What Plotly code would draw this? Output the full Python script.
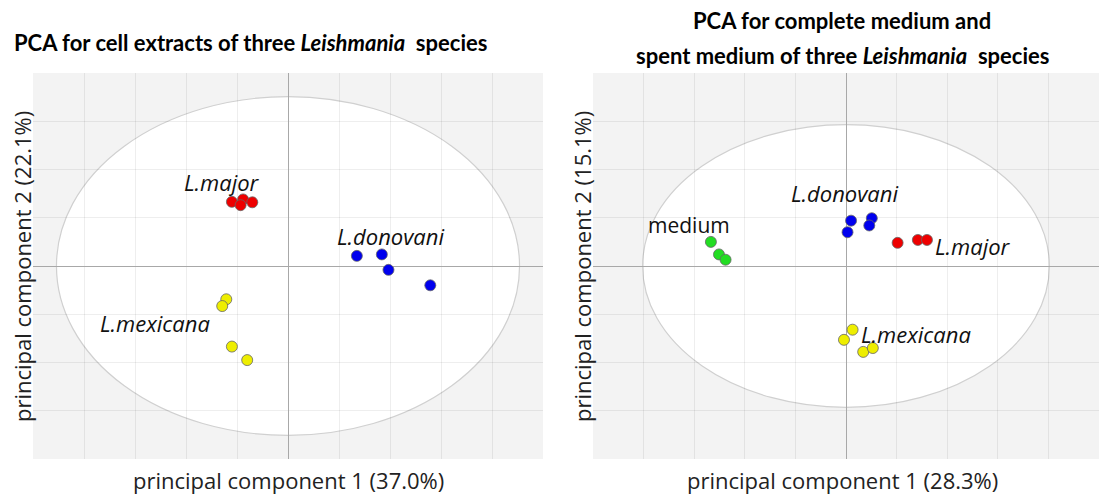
import plotly.graph_objects as go

# ---------------- data: left panel (cell extracts) ----------------
L_major_x = [-1.10, -0.88, -0.93, -0.70]
L_major_y = [1.33, 1.38, 1.26, 1.32]
L_donovani_x = [1.35, 1.84, 1.97, 2.79]
L_donovani_y = [0.21, 0.24, -0.08, -0.40]
L_mexicana_x = [-1.21, -1.29, -1.10, -0.80]
L_mexicana_y = [-0.69, -0.83, -1.67, -1.95]
left_ellipse_rx, left_ellipse_ry = 4.54, 3.51

# ---------------- data: right panel (media) ----------------
R_medium_x = [-2.67, -2.51, -2.38]
R_medium_y = [0.50, 0.24, 0.13]
R_donovani_x = [0.10, 0.51, 0.46, 0.03]
R_donovani_y = [0.94, 0.99, 0.84, 0.70]
R_major_x = [1.02, 1.42, 1.60]
R_major_y = [0.48, 0.54, 0.54]
R_mexicana_x = [0.13, -0.04, 0.34, 0.53]
R_mexicana_y = [-1.32, -1.53, -1.78, -1.70]
right_ellipse_rx, right_ellipse_ry = 4.02, 2.93

RED, BLUE, YELLOW, GREEN = "#ee0000", "#0000ee", "#eeee00", "#22dd22"
W, H = 1105, 499

fig = go.Figure()

def add_pts(x, y, color, xa, ya):
    fig.add_trace(go.Scatter(
        x=x, y=y, mode="markers", xaxis=xa, yaxis=ya, showlegend=False,
        marker=dict(size=11, color=color, line=dict(color="#666666", width=0.8))))

add_pts(L_major_x, L_major_y, RED, "x", "y")
add_pts(L_donovani_x, L_donovani_y, BLUE, "x", "y")
add_pts(L_mexicana_x, L_mexicana_y, YELLOW, "x", "y")
add_pts(R_medium_x, R_medium_y, GREEN, "x2", "y2")
add_pts(R_donovani_x, R_donovani_y, BLUE, "x2", "y2")
add_pts(R_major_x, R_major_y, RED, "x2", "y2")
add_pts(R_mexicana_x, R_mexicana_y, YELLOW, "x2", "y2")

axis_common = dict(range=[-5, 5], dtick=1, tick0=0, showticklabels=False, ticks="",
                   showgrid=True, gridcolor="rgba(0,0,0,0.065)", gridwidth=1,
                   zeroline=True, zerolinecolor="#a8a8a8", zerolinewidth=1,
                   showline=False, fixedrange=True)
yaxis_common = dict(axis_common, range=[-4, 4])

px = lambda p: p / W
py = lambda p: (H - p) / H

fig.update_layout(
    width=W, height=H, margin=dict(l=0, r=0, t=0, b=0),
    paper_bgcolor="white", plot_bgcolor="#f3f3f3",
    xaxis=dict(axis_common, domain=[px(33), px(543)], anchor="y"),
    yaxis=dict(yaxis_common, domain=[py(459), py(73)], anchor="x"),
    xaxis2=dict(axis_common, domain=[px(593), px(1099)], anchor="y2"),
    yaxis2=dict(yaxis_common, domain=[py(459), py(73)], anchor="x2"),
    font=dict(family="Open Sans", color="#222222"),
)

# confidence ellipses
for xr, yr, rx, ry in [("x", "y", left_ellipse_rx, left_ellipse_ry),
                       ("x2", "y2", right_ellipse_rx, right_ellipse_ry)]:
    fig.add_shape(type="circle", xref=xr, yref=yr, x0=-rx, x1=rx, y0=-ry, y1=ry,
                  fillcolor="white", line=dict(color="#d0d0d0", width=1.2), layer="below")

lab_it = dict(family="Open Sans", size=22, color="#111111")
lab_up = dict(family="Open Sans", size=21, color="#111111")
labels = [
    ("x", "y", -1.30, 1.75, "<i>L.major</i>", lab_it),
    ("x", "y", 2.00, 0.62, "<i>L.donovani</i>", lab_it),
    ("x", "y", -2.60, -1.19, "<i>L.mexicana</i>", lab_it),
    ("x2", "y2", -3.10, 0.86, "medium", lab_up),
    ("x2", "y2", -0.02, 1.52, "<i>L.donovani</i>", lab_it),
    ("x2", "y2", 2.51, 0.41, "<i>L.major</i>", lab_it),
    ("x2", "y2", 1.38, -1.40, "<i>L.mexicana</i>", lab_it),
]
for xr, yr, x, y, t, f in labels:
    fig.add_annotation(xref=xr, yref=yr, x=x, y=y, text=t, showarrow=False, font=f)

tfont = dict(family="Lato", size=22, color="#000000")
fig.add_annotation(xref="paper", yref="paper", x=px(250), y=py(43), text="<b>PCA for cell extracts of three <i>Leishmania</i>  species</b>",
                   showarrow=False, font=tfont, xanchor="center", yanchor="middle")
fig.add_annotation(xref="paper", yref="paper", x=px(842), y=py(20), text="<b>PCA for complete medium and</b>",
                   showarrow=False, font=tfont, xanchor="center", yanchor="middle")
fig.add_annotation(xref="paper", yref="paper", x=px(842), y=py(55), text="<b>spent medium of three <i>Leishmania</i>  species</b>",
                   showarrow=False, font=tfont, xanchor="center", yanchor="middle")

afont = dict(family="Open Sans", size=22, color="#222222")
fig.add_annotation(xref="paper", yref="paper", x=px(288), y=py(480), text="principal component 1 (37.0%)",
                   showarrow=False, font=afont, xanchor="center", yanchor="middle")
fig.add_annotation(xref="paper", yref="paper", x=px(842), y=py(480), text="principal component 1 (28.3%)",
                   showarrow=False, font=afont, xanchor="center", yanchor="middle")
fig.add_annotation(xref="paper", yref="paper", x=px(22), y=py(267), text="principal component 2 (22.1%)",
                   showarrow=False, font=afont, xanchor="center", yanchor="middle", textangle=-90)
fig.add_annotation(xref="paper", yref="paper", x=px(582), y=py(267), text="principal component 2 (15.1%)",
                   showarrow=False, font=afont, xanchor="center", yanchor="middle", textangle=-90)

fig.write_html("out.html", config={"displayModeBar": False},
               post_script="document.body.style.margin='0';document.body.style.padding='0';")
